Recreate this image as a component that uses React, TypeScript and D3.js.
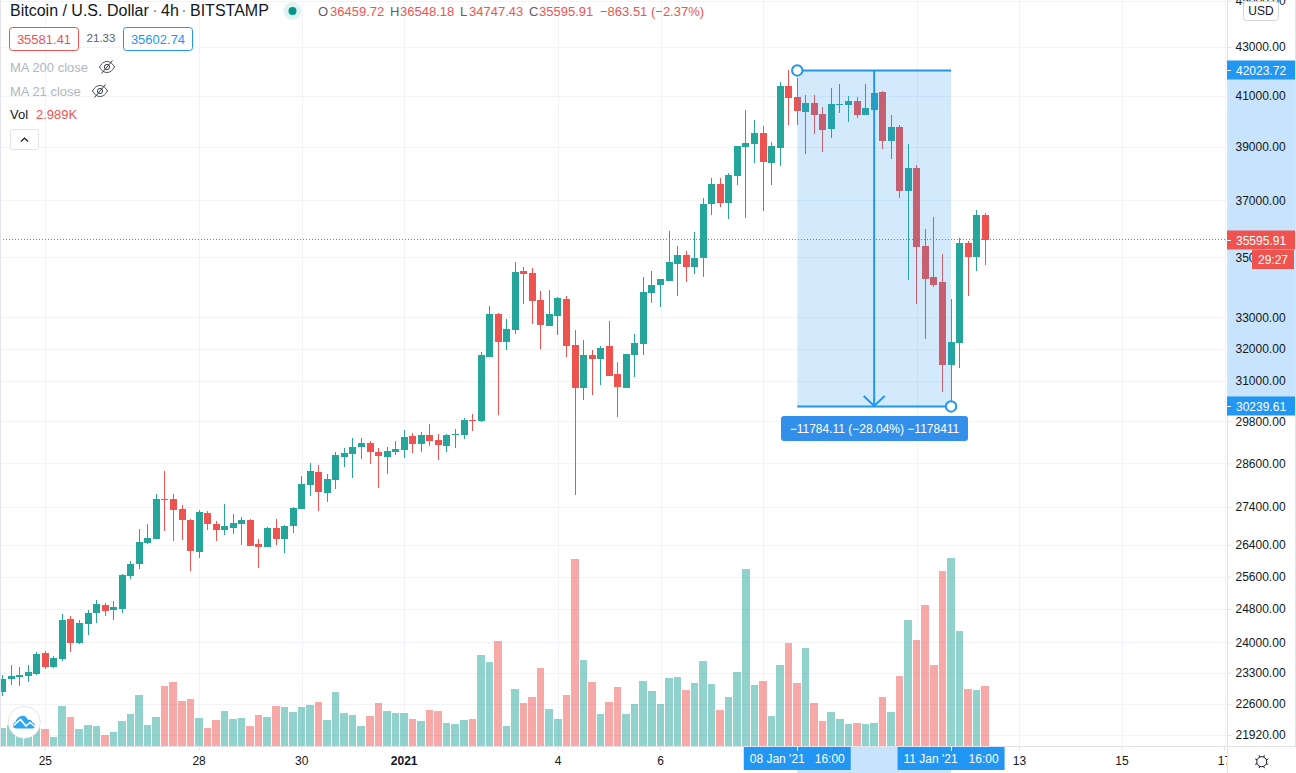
import React, { useEffect, useRef } from 'react';
import * as d3 from 'd3';

const opens = [
  22870, 23160, 23205, 23230, 23270, 23760, 23430, 23620, 24560, 23990,
  24440, 24700, 24900, 24780, 24800, 25620, 25920, 26460, 26560, 27620,
  27620, 27350, 27060, 26230, 27250, 26950, 26800, 26850, 26950, 27060,
  26430, 26350, 26850, 26560, 26900, 27350, 28000, 28360, 27790, 28140,
  28780, 28870, 29065, 29180, 28920, 28780, 28920, 28980, 29380, 29150,
  29410, 29270, 29090, 29410, 29410, 29840, 29810, 31740, 33110, 32210,
  32600, 34530, 34470, 33560, 32720, 33050, 33600, 32120, 30790, 31810,
  31680, 32090, 31220, 30790, 31810, 32150, 33800, 34060, 34200, 34770,
  35080, 34670, 34980, 36870, 37600, 36910, 37900, 38990, 39100, 39530,
  38390, 38950, 41390, 40950, 40350, 40710, 40270, 39680, 40630, 40630,
  40790, 40230, 40430, 41150, 39220, 39760, 37340, 38200, 35390, 34330,
  34160, 31490, 32180, 35490, 35010, 36459.72,
];
const highs = [
  23250, 23480, 23430, 23480, 23780, 23800, 23690, 24680, 24630, 24540,
  24780, 25020, 24950, 25000, 25670, 26000, 26820, 26950, 27760, 28390,
  27760, 27460, 27090, 27330, 27300, 27030, 27490, 27220, 27140, 27090,
  26560, 26880, 27090, 26930, 27410, 28250, 28610, 28560, 28310, 28920,
  29040, 29330, 29330, 29240, 29040, 29070, 29240, 29550, 29470, 29500,
  29730, 29440, 29440, 29580, 29900, 30020, 31900, 33370, 33140, 32950,
  34840, 34670, 34630, 33860, 33900, 33660, 33700, 32600, 32280, 31960,
  32090, 32880, 31590, 31840, 32470, 34330, 34530, 34270, 35910, 35390,
  35220, 35880, 37090, 37820, 37820, 38000, 39030, 40430, 40030, 39800,
  39180, 41560, 42023.72, 41720, 41030, 41030, 40550, 41310, 41470, 40990,
  40950, 41470, 41110, 41190, 40230, 39840, 39110, 38310, 35980, 36410,
  35110, 33600, 35660, 35560, 36650, 36548.18,
];
const lows = [
  22780, 23020, 23000, 23090, 23250, 23390, 23410, 23570, 23780, 23970,
  24180, 24460, 24630, 24540, 24700, 25540, 25790, 26430, 26560, 26770,
  26510, 26540, 25740, 26070, 26800, 26510, 26660, 26690, 26400, 26380,
  25820, 26350, 26410, 26200, 26720, 27350, 27700, 27300, 27540, 27900,
  28500, 28200, 28730, 28590, 27920, 28310, 28840, 28760, 28900, 28920,
  29090, 28700, 28920, 29040, 29300, 29530, 29790, 31740, 29990, 31960,
  32470, 33430, 32790, 31990, 32720, 32440, 31740, 27730, 30430, 30580,
  30880, 31160, 29930, 30790, 31130, 31810, 33470, 33340, 34200, 33700,
  34160, 34430, 34330, 36480, 36770, 36340, 37570, 36370, 38380, 36620,
  37570, 38270, 39840, 39840, 38740, 39490, 38800, 39340, 40310, 39960,
  40110, 40230, 40430, 38910, 38540, 37090, 34230, 33430, 32310, 34000,
  30670, 30239.61, 31400, 33700, 34530, 34747.43,
];
const closes = [
  23160, 23230, 23250, 23320, 23730, 23430, 23640, 24540, 23990, 24460,
  24700, 24920, 24750, 24850, 25640, 25920, 26480, 26590, 27620, 27600,
  27330, 27060, 26250, 27270, 26950, 26800, 26900, 26980, 27060, 26380,
  26350, 26850, 26560, 26900, 27380, 28030, 28390, 27810, 28170, 28840,
  28900, 29070, 29180, 28920, 28810, 28950, 29010, 29350, 29150, 29410,
  29240, 29120, 29410, 29440, 29840, 29810, 31810, 33110, 32210, 32630,
  34500, 34430, 33530, 32750, 33110, 33630, 32090, 30790, 31810, 31680,
  32020, 31160, 30820, 31840, 32180, 33830, 34060, 34270, 34840, 35080,
  34670, 34980, 36870, 37600, 36910, 37930, 39030, 39140, 39530, 38420,
  39030, 41390, 40900, 40390, 40700, 40230, 39640, 40670, 40670, 40790,
  40230, 40510, 41110, 39220, 39760, 37340, 38200, 35350, 34270, 34060,
  31490, 32210, 35490, 35010, 36480, 35595.91,
];
const volumes = [
  900, 1040, 800, 750, 950, 840, 440, 1990, 1440, 840,
  1040, 990, 540, 690, 1240, 1590, 2540, 1040, 1440, 2990,
  3190, 2240, 2340, 1390, 890, 1290, 1740, 1340, 1390, 990,
  1540, 1440, 1990, 1940, 1690, 1940, 2040, 2190, 1290, 2690,
  1640, 1540, 990, 1490, 2140, 1740, 1640, 1640, 1340, 1240,
  1790, 1740, 1140, 1090, 1290, 1340, 4540, 4190, 5240, 990,
  2840, 2140, 2440, 3890, 1840, 1340, 2540, 9340, 4290, 3190,
  1590, 2190, 2940, 1590, 2090, 3240, 2740, 2090, 3390, 3440,
  2790, 3140, 4240, 3090, 1790, 2440, 3690, 8840, 3040, 3240,
  1490, 4040, 5140, 3140, 4890, 2140, 1240, 1690, 1340, 1090,
  1140, 1090, 1140, 2440, 1690, 3490, 6290, 5290, 7040, 4040,
  8740, 9390, 5740, 2840, 2790, 2989,
];
const priceTicks = [
  45000, 43000, 41000, 39000, 37000, 35000, 33000, 32000, 31000, 29800, 28600,
  27400, 26400, 25600, 24800, 24000, 23300, 22600, 21920,
];
const dateTicks = [
  '2020-12-25', '2020-12-28', '2020-12-30', '2021-01-01', '2021-01-04', '2021-01-06',
  '2021-01-08', '2021-01-11', '2021-01-13', '2021-01-15', '2021-01-17',
];
// these two day labels sit under the blue crosshair date boxes
const hiddenDayLabels = ['2021-01-08', '2021-01-11'];
const firstBar = Date.UTC(2020, 11, 24, 4);
const fourHours = 4 * 3600 * 1000;
const measureHigh = { time: Date.UTC(2021, 0, 8, 16), price: 42023.72 };
const measureLow = { time: Date.UTC(2021, 0, 11, 16), price: 30239.61 };
const lastPrice = 35595.91;

const width = 1296;
const height = 773;
const axisX = 1227;
const axisY = 746;
const green = '#26a69a';
const red = '#ef5350';
const blue = '#2196f3';
const gridColor = '#f0f3fa';
const lineColor = '#e0e3eb';
const textColor = '#131722';
const font = '"Liberation Sans", Arial, sans-serif';

const App = () => {
  const svgRef = useRef(null);

  useEffect(() => {
    const svg = d3.select(svgRef.current);

    const x = d3
      .scaleUtc()
      .domain([Date.UTC(2020, 11, 25), Date.UTC(2021, 0, 17)])
      .range([45.3, 1224.5]);
    const y = d3.scaleLog().domain([21920, 43000]).range([735, 47]);
    const yVol = d3.scaleLinear().domain([0, 9400]).range([745.7, 557.7]);

    const bars = opens.map((o, i) => ({
      i,
      time: firstBar + i * fourHours,
      open: o,
      high: highs[i],
      low: lows[i],
      close: closes[i],
      volume: volumes[i],
      color: closes[i] >= o ? green : red,
    }));
    const crisp = (v) => Math.round(v) + 0.5;
    const ticksAsDates = dateTicks.map((d) => new Date(d + 'T00:00:00Z'));

    svg.append('rect').attr('width', width).attr('height', height).attr('fill', '#fff');

    // grid
    const grid = svg.append('g').attr('stroke', gridColor).attr('stroke-width', 1);
    grid
      .selectAll('line.h')
      .data(priceTicks)
      .enter()
      .append('line')
      .attr('x1', 0)
      .attr('x2', axisX)
      .attr('y1', (d) => crisp(y(d)))
      .attr('y2', (d) => crisp(y(d)));
    grid
      .selectAll('line.v')
      .data(ticksAsDates)
      .enter()
      .append('line')
      .attr('x1', (d) => crisp(x(d)))
      .attr('x2', (d) => crisp(x(d)))
      .attr('y1', 0)
      .attr('y2', axisY);

    // volume
    svg
      .append('g')
      .attr('shape-rendering', 'crispEdges')
      .selectAll('rect')
      .data(bars)
      .enter()
      .append('rect')
      .attr('x', (d) => Math.round(x(d.time) - 4))
      .attr('width', (d) => Math.round(x(d.time + fourHours) - 4) - Math.round(x(d.time) - 4) - 1)
      .attr('y', (d) => yVol(d.volume))
      .attr('height', (d) => yVol(0) - yVol(d.volume))
      .attr('fill', (d) => d.color)
      .attr('fill-opacity', 0.5);

    // last price line
    svg
      .append('line')
      .attr('x1', 0)
      .attr('x2', axisX)
      .attr('y1', crisp(y(lastPrice)) - 1)
      .attr('y2', crisp(y(lastPrice)) - 1)
      .attr('stroke', red)
      .attr('stroke-dasharray', '1 2');

    // candles
    const candles = svg.append('g').attr('shape-rendering', 'crispEdges');
    candles
      .selectAll('rect.wick')
      .data(bars)
      .enter()
      .append('rect')
      .attr('x', (d) => Math.round(x(d.time) - 3.5) + 3)
      .attr('width', 1)
      .attr('y', (d) => Math.round(y(d.high)))
      .attr('height', (d) => Math.max(1, Math.round(y(d.low)) - Math.round(y(d.high))))
      .attr('fill', (d) => d.color);
    candles
      .selectAll('rect.body')
      .data(bars)
      .enter()
      .append('rect')
      .attr('x', (d) => Math.round(x(d.time) - 3.5))
      .attr('width', 7)
      .attr('y', (d) => Math.round(y(Math.max(d.open, d.close))))
      .attr('height', (d) =>
        Math.max(1, Math.round(y(Math.min(d.open, d.close))) - Math.round(y(Math.max(d.open, d.close))))
      )
      .attr('fill', (d) => d.color);

    // measure drawing
    const mx1 = x(measureHigh.time);
    const mx2 = x(measureLow.time);
    const my1 = y(measureHigh.price);
    const my2 = y(measureLow.price);
    const mxMid = (mx1 + mx2) / 2;
    const measure = svg.append('g');
    measure
      .append('rect')
      .attr('x', mx1)
      .attr('y', my1)
      .attr('width', mx2 - mx1)
      .attr('height', my2 - my1)
      .attr('fill', blue)
      .attr('fill-opacity', 0.2);
    [my1, my2].forEach((v) =>
      measure
        .append('line')
        .attr('x1', mx1)
        .attr('x2', mx2)
        .attr('y1', v)
        .attr('y2', v)
        .attr('stroke', blue)
        .attr('stroke-width', 2)
    );
    measure
      .append('line')
      .attr('x1', mxMid)
      .attr('x2', mxMid)
      .attr('y1', my1)
      .attr('y2', my2)
      .attr('stroke', blue)
      .attr('stroke-width', 2);
    measure
      .append('path')
      .attr('d', `M${mxMid - 10.5},${my2 - 10.5}L${mxMid},${my2 - 0.5}L${mxMid + 10.5},${my2 - 10.5}`)
      .attr('fill', 'none')
      .attr('stroke', blue)
      .attr('stroke-width', 2);
    [
      [mx1, my1],
      [mx2, my2],
    ].forEach(([cx, cy]) =>
      measure
        .append('circle')
        .attr('cx', cx)
        .attr('cy', cy)
        .attr('r', 5.2)
        .attr('fill', '#fff')
        .attr('stroke', blue)
        .attr('stroke-width', 2)
    );
    measure
      .append('rect')
      .attr('x', 781)
      .attr('y', 416)
      .attr('width', 187)
      .attr('height', 25)
      .attr('rx', 3)
      .attr('fill', '#3390ea');
    measure
      .append('text')
      .attr('x', 874.5)
      .attr('y', 432.5)
      .attr('text-anchor', 'middle')
      .attr('font-size', 12)
      .attr('font-family', font)
      .attr('fill', '#fff')
      .text('\u221211784.11 (\u221228.04%) \u22121178411');

    // time axis
    const timeAxis = d3
      .axisBottom(x)
      .tickValues(ticksAsDates)
      .tickSize(4)
      .tickPadding(6)
      .tickFormat((d) => {
        if (hiddenDayLabels.includes(d.toISOString().slice(0, 10))) return '';
        return d.getUTCFullYear() === 2021 && d.getUTCDate() === 1 ? '2021' : String(d.getUTCDate());
      });
    const xAxisG = svg.append('g').attr('transform', `translate(-0.5,${axisY + 0.5})`).call(timeAxis);
    xAxisG.select('.domain').attr('stroke', lineColor).attr('d', `M0,0H${width + 1}`);
    xAxisG.selectAll('.tick line').attr('stroke', lineColor);
    xAxisG
      .selectAll('.tick text')
      .attr('fill', textColor)
      .attr('font-size', 12)
      .attr('font-family', font)
      .attr('font-weight', (d) => (d.getUTCDate() === 1 ? 'bold' : 'normal'));

    // band and boxes on the time axis
    svg
      .append('rect')
      .attr('x', mx1)
      .attr('y', axisY + 1)
      .attr('width', mx2 - mx1)
      .attr('height', height - axisY - 1)
      .attr('fill', '#c8e3fc');
    [
      [mx1, "08 Jan '21", '16:00'],
      [mx2, "11 Jan '21", '16:00'],
    ].forEach(([cx, label, hour]) => {
      const left = cx - 53.5;
      svg
        .append('rect')
        .attr('x', left)
        .attr('y', axisY + 1)
        .attr('width', 107)
        .attr('height', 23)
        .attr('fill', blue);
      svg
        .append('line')
        .attr('x1', crisp(cx))
        .attr('x2', crisp(cx))
        .attr('y1', axisY + 1)
        .attr('y2', axisY + 5)
        .attr('stroke', '#fff');
      svg
        .append('text')
        .attr('x', left + 6)
        .attr('y', 763)
        .attr('font-size', 12)
        .attr('font-family', font)
        .attr('fill', '#fff')
        .text(label);
      svg
        .append('text')
        .attr('x', left + 71)
        .attr('y', 763)
        .attr('font-size', 12)
        .attr('font-family', font)
        .attr('fill', '#fff')
        .text(hour);
    });

    // price axis
    svg
      .append('rect')
      .attr('x', axisX)
      .attr('y', 0)
      .attr('width', width - axisX)
      .attr('height', height)
      .attr('fill', '#fff');
    svg
      .append('rect')
      .attr('x', axisX + 1)
      .attr('y', my1)
      .attr('width', width - axisX - 2)
      .attr('height', my2 - my1)
      .attr('fill', '#c8e3fc');
    const priceAxis = d3
      .axisRight(y)
      .tickValues(priceTicks)
      .tickSize(4)
      .tickPadding(4)
      .tickFormat(d3.format('.2f'));
    const yAxisG = svg.append('g').attr('transform', `translate(${axisX + 0.5},0)`).call(priceAxis);
    yAxisG.select('.domain').attr('stroke', lineColor).attr('d', `M0,0V${height}`);
    yAxisG.selectAll('.tick line').attr('stroke', lineColor);
    yAxisG
      .selectAll('.tick text')
      .attr('fill', textColor)
      .attr('font-size', 12)
      .attr('font-family', font);
    svg
      .append('line')
      .attr('x1', axisX)
      .attr('x2', width)
      .attr('y1', axisY + 0.5)
      .attr('y2', axisY + 0.5)
      .attr('stroke', lineColor);
    svg
      .append('line')
      .attr('x1', width - 0.5)
      .attr('x2', width - 0.5)
      .attr('y1', 0)
      .attr('y2', axisY)
      .attr('stroke', lineColor);

    // price labels
    const priceLabel = (price, fill, text, left = axisX, w = 68) => {
      const cy = Math.round(y(price));
      svg
        .append('rect')
        .attr('x', left)
        .attr('y', cy - 9.5)
        .attr('width', w)
        .attr('height', 19)
        .attr('fill', fill);
      svg
        .append('line')
        .attr('x1', axisX)
        .attr('x2', axisX + 4)
        .attr('y1', cy + 0.5)
        .attr('y2', cy + 0.5)
        .attr('stroke', '#fff');
      svg
        .append('text')
        .attr('x', left === axisX ? axisX + 9 : left + 6)
        .attr('y', cy + 4.5)
        .attr('font-size', 12)
        .attr('font-family', font)
        .attr('fill', '#fff')
        .text(text);
    };
    priceLabel(measureHigh.price, blue, d3.format('.2f')(measureHigh.price));
    priceLabel(measureLow.price, blue, d3.format('.2f')(measureLow.price));
    priceLabel(lastPrice, red, d3.format('.2f')(lastPrice));
    svg
      .append('rect')
      .attr('x', 1252)
      .attr('y', 250)
      .attr('width', 42)
      .attr('height', 19)
      .attr('fill', red);
    svg
      .append('text')
      .attr('x', 1273)
      .attr('y', 264)
      .attr('text-anchor', 'middle')
      .attr('font-size', 12)
      .attr('font-family', font)
      .attr('fill', '#fff')
      .text('29:27');

    // USD button
    svg
      .append('rect')
      .attr('x', 1243.5)
      .attr('y', 1.5)
      .attr('width', 35)
      .attr('height', 19)
      .attr('rx', 3)
      .attr('fill', '#fff')
      .attr('stroke', '#d1d4dc');
    svg
      .append('text')
      .attr('x', 1261)
      .attr('y', 15)
      .attr('text-anchor', 'middle')
      .attr('font-size', 12)
      .attr('font-family', font)
      .attr('fill', textColor)
      .text('USD');

    // settings icon
    const gear = svg
      .append('g')
      .attr('transform', 'translate(1261.7,761.7)')
      .attr('fill', 'none')
      .attr('stroke', textColor)
      .attr('stroke-width', 1);
    gear.append('circle').attr('r', 5);
    d3.range(8).forEach((k) => {
      const a = (k * Math.PI) / 4 + Math.PI / 8;
      gear
        .append('line')
        .attr('x1', 5 * Math.cos(a))
        .attr('y1', 5 * Math.sin(a))
        .attr('x2', 7 * Math.cos(a))
        .attr('y2', 7 * Math.sin(a));
    });

    // logo
    const logo = svg.append('g');
    logo
      .append('circle')
      .attr('cx', 24.3)
      .attr('cy', 722.3)
      .attr('r', 16)
      .attr('fill', '#fff')
      .attr('stroke', '#e4e6ea')
      .attr('stroke-width', 1);
    logo
      .append('path')
      .attr(
        'd',
        'M16.5,728.5C12,728.5 12,723 15.5,722C16.5,718 20,715.7 22.5,715.7C25.5,715.7 27,717.5 28,720C30,719 32,720.5 32.3,722.5C35.5,722.5 36.5,728.5 32.5,728.5Z'
      )
      .attr('fill', '#2ea5ee');
    logo
      .append('path')
      .attr('d', 'M13.5,725.5L20.5,719.5L26,726L30,722.5L35.5,727')
      .attr('fill', 'none')
      .attr('stroke', '#fff')
      .attr('stroke-width', 1.6);

    // legend
    const label = (tx, ty, text, fill, size = 13, anchor = 'start') =>
      svg
        .append('text')
        .attr('x', tx)
        .attr('y', ty)
        .attr('font-size', size)
        .attr('font-family', font)
        .attr('text-anchor', anchor)
        .attr('fill', fill)
        .text(text);
    const eyeOff = (cx, cy) => {
      const g = svg
        .append('g')
        .attr('transform', `translate(${cx},${cy})`)
        .attr('fill', 'none')
        .attr('stroke', '#3a3e4a')
        .attr('stroke-width', 1);
      g.append('path').attr('d', 'M-7.5,0C-5,-4.5 -2,-5.5 0,-5.5C2,-5.5 5,-4.5 7.5,0C5,4.5 2,5.5 0,5.5C-2,5.5 -5,4.5 -7.5,0Z');
      g.append('circle').attr('r', 2.6);
      g.append('line').attr('x1', -5.5).attr('y1', 6.5).attr('x2', 5.5).attr('y2', -6.5);
    };

    label(10, 15.5, 'Bitcoin / U.S. Dollar', textColor, 16);
    label(155, 15.5, '\u00b7', '#787b86', 16, 'middle');
    label(161, 15.5, '4h', textColor, 16);
    label(184, 15.5, '\u00b7', '#787b86', 16, 'middle');
    label(190, 15.5, 'BITSTAMP', textColor, 16);
    svg.append('circle').attr('cx', 292.5).attr('cy', 11).attr('r', 9).attr('fill', '#e0f2f1');
    svg.append('circle').attr('cx', 292.5).attr('cy', 11).attr('r', 4).attr('fill', '#009688');

    const ohlcLetters = [
      [318, 'O', 330, opens[115]],
      [390, 'H', 400, highs[115]],
      [460, 'L', 469, lows[115]],
      [529, 'C', 539, closes[115]],
    ];
    ohlcLetters.forEach(([lx, letter, vx, value]) => {
      label(lx, 15.5, letter, '#5d606b');
      label(vx, 15.5, d3.format('.2f')(value), red);
    });
    label(600, 15.5, '\u2212863.51 (\u22122.37%)', red);

    svg
      .append('rect')
      .attr('x', 9.5)
      .attr('y', 27.5)
      .attr('width', 69)
      .attr('height', 23)
      .attr('rx', 3)
      .attr('fill', '#fff')
      .attr('stroke', red);
    label(44, 43.5, '35581.41', red, 13, 'middle');
    label(101, 42, '21.33', '#5d606b', 11.5, 'middle');
    svg
      .append('rect')
      .attr('x', 123.5)
      .attr('y', 27.5)
      .attr('width', 69)
      .attr('height', 23)
      .attr('rx', 3)
      .attr('fill', '#fff')
      .attr('stroke', blue);
    label(158, 43.5, '35602.74', blue, 13, 'middle');

    label(10, 71.5, 'MA 200 close', '#b2b5be');
    eyeOff(107, 67);
    label(10, 95.5, 'MA 21 close', '#b2b5be');
    eyeOff(100, 91);
    label(10, 119, 'Vol', textColor);
    label(36, 119, '2.989K', red);

    svg
      .append('rect')
      .attr('x', 10.5)
      .attr('y', 129.5)
      .attr('width', 28)
      .attr('height', 20)
      .attr('rx', 2)
      .attr('fill', '#fff')
      .attr('stroke', lineColor);
    svg
      .append('path')
      .attr('d', 'M21,141.5L24.5,138L28,141.5')
      .attr('fill', 'none')
      .attr('stroke', textColor)
      .attr('stroke-width', 1.2);

    // left border
    svg
      .append('line')
      .attr('x1', 0.5)
      .attr('x2', 0.5)
      .attr('y1', 0)
      .attr('y2', axisY)
      .attr('stroke', lineColor);

    return () => {
      svg.selectAll('*').remove();
    };
  }, []);

  return (
    <svg
      ref={svgRef}
      width={width}
      height={height}
      style={{ position: 'absolute', left: 0, top: 0, display: 'block' }}
    ></svg>
  );
};

export default App;
